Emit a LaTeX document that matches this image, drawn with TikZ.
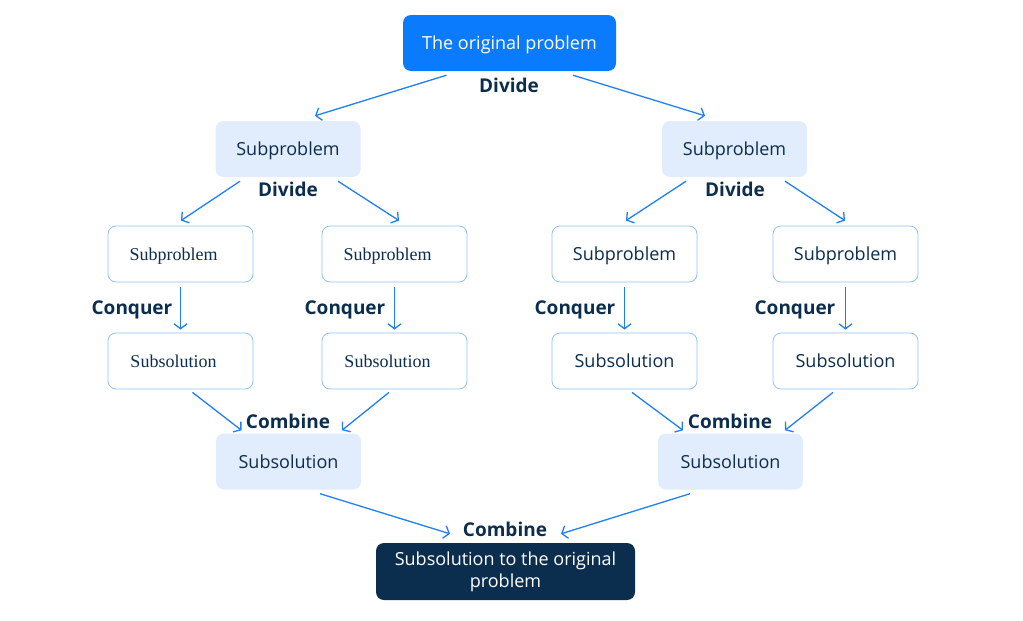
\documentclass[tikz,border=0pt]{standalone}
\usepackage{fontspec}
\setmainfont{Open Sans}
\newfontfamily\oldserif{Liberation Serif}
\usetikzlibrary{arrows.meta}

\definecolor{mainblue}{HTML}{0A7BFD}
\definecolor{lightbox}{HTML}{E1EDFC}
\definecolor{navy}{HTML}{0B2D4E}
\definecolor{edgeblue}{HTML}{1E80F2}
\definecolor{boxline}{HTML}{8FC2F7}

\tikzset{
  topbox/.style={rounded corners=8pt, fill=mainblue, text=white, minimum width=213pt, minimum height=56pt, text depth=0pt, font=\fontsize{18}{21}\selectfont},
  subbox/.style={rounded corners=8pt, fill=lightbox, text=navy, minimum width=145pt, minimum height=56pt, text depth=0pt, font=\fontsize{18}{21}\selectfont},
  leafbox/.style={rounded corners=8pt, draw=boxline, line width=0.8pt, fill=white, text=navy, minimum width=145pt, minimum height=56pt, text depth=0pt, font=\fontsize{18}{21}\selectfont},
  serifleaf/.style={leafbox, font=\oldserif\fontsize{18}{21}\selectfont, execute at end node={\kern14pt}},
  endbox/.style={rounded corners=8pt, fill=navy, text=white, minimum width=259pt, minimum height=57pt, align=center, font=\fontsize{18}{22}\selectfont},
  steplabel/.style={text=navy, font=\bfseries\fontsize{19}{22}\selectfont},
  flow/.style={edgeblue, line width=1.3pt, -{Straight Barb[length=5pt,width=13pt]}}
}

\begin{document}
\begin{tikzpicture}[x=1pt, y=-1pt]

\useasboundingbox (0,0) rectangle (1023,621);

% draw boxes
\node[topbox] (orig) at (509.5,43) {The original problem};
\node[subbox] (subL) at (288,149) {Subproblem};
\node[subbox] (subR) at (734.5,149) {Subproblem};

\node[serifleaf] (p1) at (180.5,254) {Subproblem};
\node[serifleaf] (p2) at (394.5,254) {Subproblem};
\node[leafbox] (p3) at (624.5,254) {Subproblem};
\node[leafbox] (p4) at (845.5,254) {Subproblem};

\node[serifleaf] (s1) at (180.5,361) {Subsolution};
\node[serifleaf] (s2) at (394.5,361) {Subsolution};
\node[leafbox] (s3) at (624.5,361) {Subsolution};
\node[leafbox] (s4) at (845.5,361) {Subsolution};

\node[subbox] (cL) at (288.5,461.5) {Subsolution};
\node[subbox] (cR) at (730.5,461.5) {Subsolution};

\node[endbox] (final) at (505.5,571.5) {Subsolution to the original\\problem};

% label steps
\node[steplabel] (div0) at (509,85) {Divide};
\node[steplabel] (div1) at (288,189) {Divide};
\node[steplabel] (div2) at (735,189) {Divide};
\node[steplabel] (con1) at (132,310) {Conquer};
\node[steplabel] (con2) at (345,310) {Conquer};
\node[steplabel] (con3) at (575,310) {Conquer};
\node[steplabel] (con4) at (795,310) {Conquer};
\node[steplabel] (com1) at (288,421) {Combine};
\node[steplabel] (com2) at (730,421) {Combine};
\node[steplabel] (com0) at (505,529) {Combine};

% divide
\draw[flow] ([xshift=-63pt,yshift=-4pt]orig.south) -- ([xshift=27pt,yshift=5pt]subL.north);
\draw[flow] ([xshift=63.5pt,yshift=-4pt]orig.south) -- ([xshift=-29.5pt,yshift=5pt]subR.north);
\draw[flow] ([xshift=-48pt,yshift=-4pt]subL.south) -- ([xshift=0.5pt,yshift=5pt]p1.north);
\draw[flow] ([xshift=50pt,yshift=-4pt]subL.south) -- ([xshift=4.5pt,yshift=5pt]p2.north);
\draw[flow] ([xshift=-48.5pt,yshift=-4pt]subR.south) -- ([xshift=1.5pt,yshift=5pt]p3.north);
\draw[flow] ([xshift=50.5pt,yshift=-4pt]subR.south) -- ([xshift=-0.5pt,yshift=5pt]p4.north);

% conquer
\foreach \i in {1,2,3,4}
  \draw[flow] ([yshift=-5pt]p\i.south) -- ([yshift=3pt]s\i.north);

% combine
\draw[flow] ([xshift=12pt,yshift=-3pt]s1.south) -- ([xshift=-47pt,yshift=3pt]cL.north);
\draw[flow] ([xshift=-5.5pt,yshift=-3pt]s2.south) -- ([xshift=53.5pt,yshift=3pt]cL.north);
\draw[flow] ([xshift=7.5pt,yshift=-3pt]s3.south) -- ([xshift=-47.5pt,yshift=3pt]cR.north);
\draw[flow] ([xshift=-12.5pt,yshift=-3pt]s4.south) -- ([xshift=54.5pt,yshift=3pt]cR.north);
\draw[flow] ([xshift=31.5pt,yshift=-4pt]cL.south) -- ([xshift=-55.5pt,yshift=9pt]final.north);
\draw[flow] ([xshift=-40.5pt,yshift=-4pt]cR.south) -- ([xshift=55.5pt,yshift=9pt]final.north);

\end{tikzpicture}
\end{document}
